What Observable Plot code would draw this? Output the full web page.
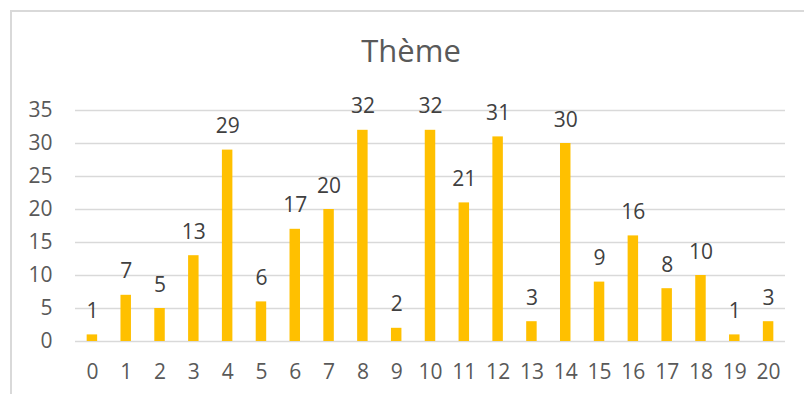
<!DOCTYPE html>
<html>
<head>
<meta charset="utf-8">
<script src="https://cdn.jsdelivr.net/npm/d3@7"></script>
<script src="https://cdn.jsdelivr.net/npm/@observablehq/plot@0.6"></script>
<style>
  html, body { margin: 0; padding: 0; background: #fff; }
  #wrap { position: relative; width: 804px; height: 394px; overflow: hidden; font-family: "Open Sans", sans-serif; }
  #border { position: absolute; left: 10px; top: 10px; width: 900px; height: 500px; border-left: 2px solid #d9d9d9; border-top: 2px solid #d9d9d9; box-sizing: border-box; }
  #title { height: 80px; box-sizing: border-box; padding-top: 35px; padding-left: 18px; text-align: center; font-size: 31px; line-height: 31px; color: #595959; }
  #chart svg { display: block; }
</style>
</head>
<body>
<div id="wrap">
  <div id="border"></div>
  <div id="title">Thème</div>
  <div id="chart"></div>
</div>
<script>
const categories = ["0","1","2","3","4","5","6","7","8","9","10","11","12","13","14","15","16","17","18","19","20"];
const values = [1,7,5,13,29,6,17,20,32,2,32,21,31,3,30,9,16,8,10,1,3];
const yTicks = [0,5,10,15,20,25,30,35];

const data = categories.map((c, i) => ({cat: c, value: values[i]}));

const chart = Plot.plot({
  width: 804,
  height: 314,
  marginLeft: 75,
  marginRight: 19,
  marginTop: 30,
  marginBottom: 53,
  style: {fontFamily: "Open Sans, sans-serif", fontSize: "21px", color: "#595959", background: "transparent"},
  x: {domain: categories, paddingInner: 0.69, paddingOuter: 0.345, round: false, label: null, tickSize: 0, tickPadding: 23},
  y: {domain: [0, 35], ticks: yTicks, label: null, tickSize: 0, tickPadding: 23},
  marks: [
    Plot.ruleY(yTicks, {stroke: "#d9d9d9", strokeWidth: 1.5}),
    Plot.barY(data, {x: "cat", y: "value", fill: "#FFC000"}),
    Plot.text(data, {x: "cat", y: "value", text: d => String(d.value), lineAnchor: "bottom", dy: -17, fontSize: 21, fill: "#404040"}),
    Plot.axisX({tickSize: 0, tickPadding: 23, fontSize: 21, fill: "#595959"}),
    Plot.axisY({ticks: yTicks, tickSize: 0, tickPadding: 23, fontSize: 21, fill: "#595959"})
  ]
});
document.getElementById("chart").appendChild(chart);
</script>
</body>
</html>
